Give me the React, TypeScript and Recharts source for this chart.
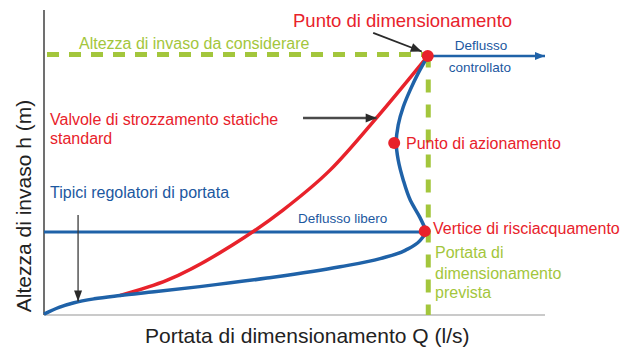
import React from 'react';
import { ComposedChart, Line, XAxis, YAxis, ReferenceDot, ReferenceLine } from 'recharts';

// Regulator curve (lower branch: free outflow up to the flushing vertex)
const blueLower = [
  { x: 0, y: 0.3 }, { x: 3, y: 2.5 }, { x: 6, y: 4.0 }, { x: 10, y: 5.3 },
  { x: 15.2, y: 6.4 }, { x: 22, y: 7.6 }, { x: 31.1, y: 9.3 }, { x: 44.5, y: 12.1 },
  { x: 59.1, y: 15.8 }, { x: 67.1, y: 18.5 }, { x: 72.1, y: 21.2 }, { x: 75.0, y: 24.3 },
  { x: 76.4, y: 27.2 },
];
// Regulator curve (upper branch: controlled outflow up to the design point)
const blueUpper = [
  { x: 76.4, y: 27.2 }, { x: 75.0, y: 32.1 }, { x: 73.1, y: 37.7 }, { x: 71.7, y: 44.3 },
  { x: 70.7, y: 50.8 }, { x: 70.3, y: 56.4 }, { x: 70.7, y: 62.3 }, { x: 71.7, y: 68.2 },
  { x: 73.1, y: 73.8 }, { x: 74.7, y: 79.3 }, { x: 76.6, y: 84.9 },
];
// Static throttle valves
const redCurve = [
  { x: 15.2, y: 6.4 }, { x: 24.6, y: 11.4 }, { x: 37.7, y: 23.0 }, { x: 47.7, y: 34.4 },
  { x: 57.1, y: 47.5 }, { x: 66.5, y: 64.9 }, { x: 76.6, y: 84.9 },
];
const freeFlow = [{ x: 0, y: 27.2 }, { x: 76.0, y: 27.2 }];
const controlledFlow = [{ x: 76.6, y: 84.9 }, { x: 100, y: 84.9 }];
const designLevel = [{ x: 0.6, y: 85.4 }, { x: 76.6, y: 85.4 }];
const designFlow = [{ x: 76.7, y: 85.4 }, { x: 76.7, y: 0 }];
const arrowDesign = [{ x: 65.7, y: 92.5 }, { x: 75.4, y: 86.4 }];
const arrowValves = [{ x: 51.7, y: 64.6 }, { x: 66.4, y: 64.6 }];
const arrowRegulators = [{ x: 6.8, y: 32.8 }, { x: 6.8, y: 4.4 }];
const keyPoints = [
  { x: 76.6, y: 84.9 }, // Punto di dimensionamento
  { x: 69.9, y: 56.4 }, // Punto di azionamento
  { x: 76.0, y: 27.5 }, // Vertice di risciacquamento
];

const RED = '#e8222b';
const BLUE = '#1f62a8';
const BLUE_TXT = '#1c58a0';
const GREEN = '#a3c63c';
const FONT = "'Liberation Sans', Arial, Helvetica, sans-serif";

const arrowHead = (color: string, len: number, half: number) => {
  let px = 0;
  let py = 0;
  return (props: any) => {
    const { cx, cy, index } = props;
    if (index === 0) {
      px = cx;
      py = cy;
      return <g key={`s${index}`} />;
    }
    const ang = Math.atan2(cy - py, cx - px);
    const bx = cx - len * Math.cos(ang);
    const by = cy - len * Math.sin(ang);
    const nx = -Math.sin(ang) * half;
    const ny = Math.cos(ang) * half;
    return (
      <path
        key={`h${index}`}
        d={`M${cx},${cy} L${bx + nx},${by + ny} L${bx - nx},${by - ny} Z`}
        fill={color}
        stroke="none"
      />
    );
  };
};

export default function App() {
  return (
    <div style={{ position: 'absolute', left: 0, top: 0, width: 627, height: 350, background: '#fff', fontFamily: FONT }}>
      <ComposedChart width={627} height={350} margin={{ top: 10, right: 82, bottom: 35, left: 44 }}>
        <XAxis type="number" dataKey="x" domain={[0, 100]} hide />
        <YAxis type="number" dataKey="y" domain={[0, 100]} hide />
        <ReferenceLine y={0} stroke="#b8b8b8" strokeWidth={1.5} />
        <ReferenceLine x={0} stroke="#707070" strokeWidth={2} />
        <Line data={designLevel} dataKey="y" type="linear" stroke={GREEN} strokeWidth={5}
          strokeDasharray="12 10" dot={false} isAnimationActive={false} />
        <Line data={designFlow} dataKey="y" type="linear" stroke={GREEN} strokeWidth={5}
          strokeDasharray="13 12" dot={false} isAnimationActive={false} />
        <Line data={freeFlow} dataKey="y" type="linear" stroke={BLUE} strokeWidth={3}
          dot={false} isAnimationActive={false} />
        <Line data={redCurve} dataKey="y" type="monotone" stroke={RED} strokeWidth={3.5}
          dot={false} isAnimationActive={false} />
        <Line data={blueLower} dataKey="y" type="monotone" stroke={BLUE} strokeWidth={3.5}
          dot={false} isAnimationActive={false} />
        <Line data={blueUpper} dataKey="y" type="monotoneY" stroke={BLUE} strokeWidth={3.5}
          dot={false} isAnimationActive={false} />
        <Line data={controlledFlow} dataKey="y" type="linear" stroke={BLUE} strokeWidth={2.5}
          dot={arrowHead(BLUE, 10, 4)} isAnimationActive={false} />
        <Line data={arrowDesign} dataKey="y" type="linear" stroke="#2a2a2a" strokeWidth={1.8}
          dot={arrowHead('#2a2a2a', 11, 4.5)} isAnimationActive={false} />
        <Line data={arrowValves} dataKey="y" type="linear" stroke="#4a4a4a" strokeWidth={2.5}
          dot={arrowHead('#2a2a2a', 11, 4.5)} isAnimationActive={false} />
        <Line data={arrowRegulators} dataKey="y" type="linear" stroke="#3a3a3a" strokeWidth={1.3}
          dot={arrowHead('#2a2a2a', 11, 4)} isAnimationActive={false} />
        {keyPoints.map((p, i) => (
          <ReferenceDot key={i} x={p.x} y={p.y} r={6} fill={RED} stroke="none" />
        ))}
      </ComposedChart>
      <svg width={627} height={350} style={{ position: 'absolute', left: 0, top: 0, pointerEvents: 'none' }}
        fontFamily={FONT}>
        <text x={293} y={27} fontSize={18.5} fill={RED}>Punto di dimensionamento</text>
        <text x={79} y={49} fontSize={16} fill={GREEN}>Altezza di invaso da considerare</text>
        <text x={481} y={50} fontSize={13.5} fill={BLUE_TXT} textAnchor="middle">Deflusso</text>
        <text x={480} y={72} fontSize={13.5} fill={BLUE_TXT} textAnchor="middle">controllato</text>
        <text x={50} y={125} fontSize={16} fill={RED}>Valvole di strozzamento statiche</text>
        <text x={50} y={144} fontSize={16} fill={RED}>standard</text>
        <text x={406} y={149} fontSize={16} fill={RED}>Punto di azionamento</text>
        <text x={50} y={198} fontSize={16} fill={BLUE_TXT}>Tipici regolatori di portata</text>
        <text x={298} y={223} fontSize={13.5} fill={BLUE_TXT}>Deflusso libero</text>
        <text x={433} y={234} fontSize={16} fill={RED}>Vertice di risciacquamento</text>
        <text x={435} y={258} fontSize={16} fill={GREEN}>Portata di</text>
        <text x={435} y={279} fontSize={16} fill={GREEN}>dimensionamento</text>
        <text x={435} y={298} fontSize={16} fill={GREEN}>prevista</text>
        <text x={145} y={343} fontSize={21} fill="#222">Portata di dimensionamento Q (l/s)</text>
        <text x={31} y={206} fontSize={21} fill="#222" textAnchor="middle" transform="rotate(-90 31 206)">
          Altezza di invaso h (m)
        </text>
      </svg>
    </div>
  );
}
